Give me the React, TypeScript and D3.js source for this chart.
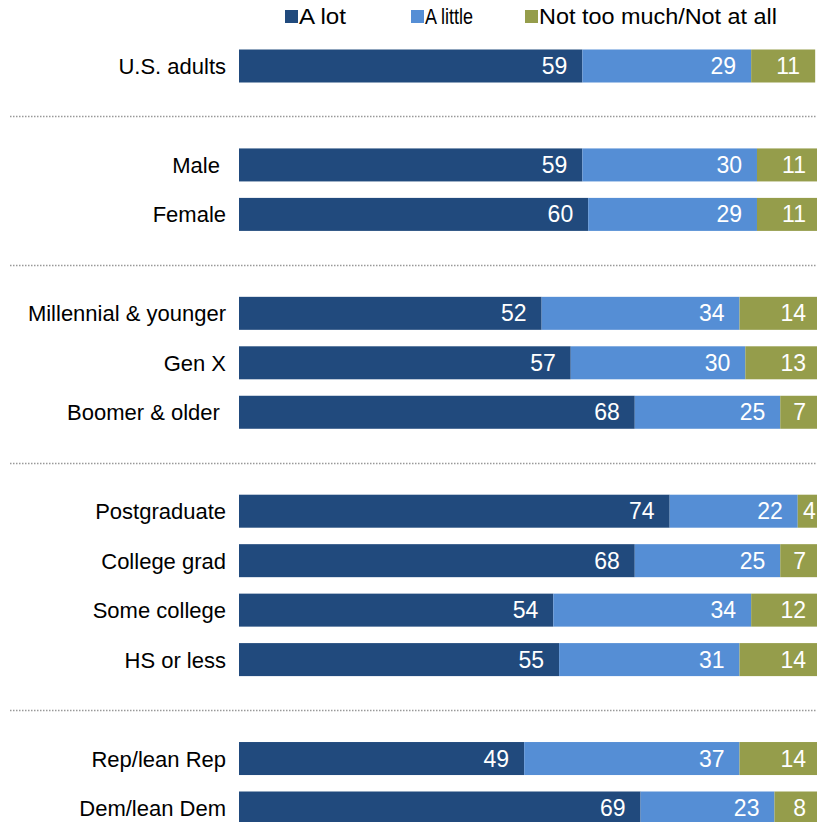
import * as d3 from "d3";
import { useEffect, useRef } from "react";

const SERIES = ["A lot", "A little", "Not too much/Not at all"];
const COLORS = ["#214A7D", "#558ED5", "#959D4B"];

// groups of rows, a separator line goes between groups
const GROUPS = [
  ["U.S. adults"],
  ["Male ", "Female"],
  ["Millennial & younger", "Gen X", "Boomer & older "],
  ["Postgraduate", "College grad", "Some college", "HS or less"],
  ["Rep/lean Rep", "Dem/lean Dem"],
];

const A_LOT = [59, 59, 60, 52, 57, 68, 74, 68, 54, 55, 49, 69];
const A_LITTLE = [29, 30, 29, 34, 30, 25, 22, 25, 34, 31, 37, 23];
const NOT_MUCH = [11, 11, 11, 14, 13, 7, 4, 7, 12, 14, 14, 8];

const W = 817;
const H = 822;
const FONT = "'Liberation Sans', Arial, sans-serif";

const App = () => {
  const svgRef = useRef<SVGSVGElement>(null);

  useEffect(() => {
    if (!svgRef.current) return;
    const svg = d3.select(svgRef.current);
    svg.selectAll("*").remove();

    // lay rows into slots, leaving one empty slot between groups
    const rows: { label: string; slot: number; values: number[] }[] = [];
    const seps: number[] = [];
    let slot = 0;
    let i = 0;
    GROUPS.forEach((g, gi) => {
      if (gi > 0) {
        seps.push(slot);
        slot++;
      }
      g.forEach((label) => {
        rows.push({ label, slot, values: [A_LOT[i], A_LITTLE[i], NOT_MUCH[i]] });
        slot++;
        i++;
      });
    });

    const y = d3.scaleLinear().domain([0, slot - 1]).range([66, 808]);
    const x = d3.scaleLinear().domain([0, 100]).range([239, 821]);
    const barH = 33;

    // legend
    const legendX = [285, 411, 525];
    const legendW = [47, 48, 238];
    const legend = svg.append("g");
    SERIES.forEach((s, k) => {
      legend
        .append("rect")
        .attr("x", legendX[k])
        .attr("y", 10)
        .attr("width", 13)
        .attr("height", 13)
        .attr("fill", COLORS[k]);
      legend
        .append("text")
        .attr("x", legendX[k] + 14)
        .attr("y", 24)
        .attr("font-size", 22)
        .attr("font-family", FONT)
        .attr("textLength", legendW[k])
        .attr("lengthAdjust", "spacingAndGlyphs")
        .attr("fill", "#000")
        .text(s);
    });

    // separators
    svg
      .append("g")
      .selectAll("line")
      .data(seps)
      .enter()
      .append("line")
      .attr("x1", 10)
      .attr("x2", W)
      .attr("y1", (d) => Math.round(y(d)) + 1.5)
      .attr("y2", (d) => Math.round(y(d)) + 1.5)
      .attr("stroke", "#999")
      .attr("stroke-width", 1.5)
      .attr("stroke-dasharray", "1.5,1.5");

    const rowG = svg
      .append("g")
      .selectAll("g")
      .data(rows)
      .enter()
      .append("g")
      .attr("transform", (d) => `translate(0, ${y(d.slot)})`);

    rowG
      .append("text")
      .attr("x", 226)
      .attr("y", 8)
      .attr("text-anchor", "end")
      .attr("font-size", 22)
      .attr("font-family", FONT)
      .style("white-space", "pre")
      .attr("fill", "#000")
      .text((d) => d.label);

    rowG.each(function (d) {
      const g = d3.select(this);
      const stack = d3.cumsum(d.values);
      d.values.forEach((v, k) => {
        const x0 = x(stack[k] - v);
        const x1 = x(stack[k]);
        g.append("rect")
          .attr("x", x0)
          .attr("y", -barH / 2)
          .attr("width", x1 - x0)
          .attr("height", barH)
          .attr("fill", COLORS[k]);
        const narrow = x1 - x0 < 36;
        g.append("text")
          .attr("x", narrow ? (x0 + x1) / 2 : x1 - 15)
          .attr("y", 8)
          .attr("text-anchor", narrow ? "middle" : "end")
          .attr("font-size", 23)
          .attr("font-family", FONT)
          .attr("fill", "#fff")
          .text(v);
      });
    });
  }, []);

  return (
    <svg
      ref={svgRef}
      width={W}
      height={H}
      style={{ position: "absolute", left: 0, top: 0, background: "#fff" }}
    />
  );
};

export default App;
